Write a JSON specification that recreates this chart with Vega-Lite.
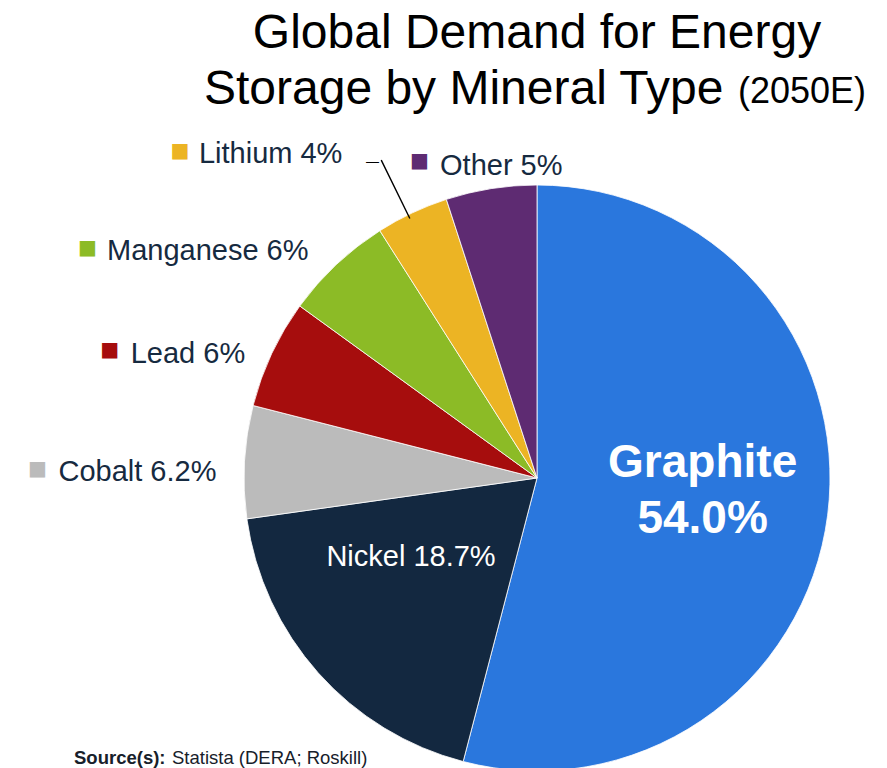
{
  "$schema": "https://vega.github.io/schema/vega-lite/v6.json",
  "autosize": {"type": "none"},
  "padding": {"left": 244, "top": 187, "right": 57, "bottom": 0},
  "width": 586,
  "height": 582,
  "background": "#ffffff",
  "config": {"view": {"stroke": null}},
  "title": {
    "text": ["Global Demand for Energy", "Storage by Mineral Type\u00a0\u00a0\u00a0\u00a0\u00a0\u00a0\u00a0\u00a0\u00a0\u00a0\u00a0\u200b"],
    "subtitle": "\u200b\u00a0\u00a0\u00a0\u00a0\u00a0\u00a0\u00a0\u00a0\u00a0\u00a0\u00a0\u00a0\u00a0\u00a0\u00a0\u00a0\u00a0\u00a0\u00a0\u00a0\u00a0\u00a0\u00a0\u00a0\u00a0\u00a0\u00a0\u00a0\u00a0\u00a0\u00a0\u00a0\u00a0\u00a0\u00a0\u00a0\u00a0\u00a0\u00a0\u00a0\u00a0\u00a0\u00a0\u00a0\u00a0\u00a0\u00a0\u00a0\u00a0\u00a0\u00a0\u00a0\u00a0(2050E)",
    "anchor": "middle",
    "frame": "group",
    "offset": 1,
    "font": "Liberation Sans",
    "fontSize": 48,
    "fontWeight": "normal",
    "color": "#000000",
    "lineHeight": 56,
    "subtitleFont": "Liberation Sans",
    "subtitleFontSize": 36,
    "subtitleColor": "#000000",
    "subtitlePadding": -39
  },
  "layer": [
    {
      "data": {
        "values": [
          {"idx": 1, "mineral": "Graphite", "share": 54.0, "label": "Graphite\n54.0%"},
          {"idx": 2, "mineral": "Nickel", "share": 18.7, "label": "Nickel 18.7%"},
          {"idx": 3, "mineral": "Cobalt", "share": 6.2, "label": "Cobalt 6.2%"},
          {"idx": 4, "mineral": "Lead", "share": 6.0, "label": "Lead 6%"},
          {"idx": 5, "mineral": "Manganese", "share": 6.0, "label": "Manganese 6%"},
          {"idx": 6, "mineral": "Lithium", "share": 4.0, "label": "Lithium 4%"},
          {"idx": 7, "mineral": "Other", "share": 5.0, "label": "Other 5%"}
        ]
      },
      "encoding": {
        "theta": {"field": "share", "type": "quantitative", "stack": true},
        "order": {"field": "idx", "type": "quantitative"}
      },
      "layer": [
        {
          "mark": {"type": "arc", "outerRadius": 293, "stroke": "#ffffff", "strokeWidth": 0.8},
          "encoding": {
            "color": {
              "field": "mineral", "type": "nominal", "legend": null,
              "scale": {
                "domain": ["Graphite", "Nickel", "Cobalt", "Lead", "Manganese", "Lithium", "Other"],
                "range": ["#2A77DD", "#132840", "#BBBBBB", "#A60D0D", "#8CBB26", "#ECB424", "#5E2B72"]
              }
            }
          }
        },
        {
          "transform": [
            {"stack": "share", "groupby": [], "sort": [{"field": "idx", "order": "ascending"}], "as": ["t0", "t1"]},
            {"filter": "datum.mineral === 'Lithium'"}
          ],
          "mark": {"type": "arc", "innerRadius": 289, "outerRadius": 354, "thetaOffset": 0.1105, "theta2Offset": 0.1105, "fill": null, "stroke": "#000000", "strokeWidth": 1.4},
          "encoding": {
            "theta": {"field": "t0", "type": "quantitative", "stack": null},
            "theta2": {"field": "t0"}
          }
        },
        {
          "mark": {"type": "text", "radius": 300, "align": "center", "baseline": "middle", "dx": -36.6, "dy": -45, "font": "Liberation Sans", "fontSize": 13, "fill": "#000000"},
          "encoding": {"text": {"condition": {"test": "datum.mineral === 'Lithium'", "value": "\u2014"}, "value": ""}}
        },
        {
          "mark": {"type": "text", "radius": 300, "align": "left", "baseline": "middle", "dx": -179, "dy": 11, "font": "Liberation Sans", "fontSize": 29, "fill": "#162A40"},
          "encoding": {"text": {"condition": {"test": "datum.mineral === 'Cobalt'", "field": "label", "type": "nominal"}, "value": ""}}
        },
        {
          "mark": {"type": "text", "radius": 300, "align": "left", "baseline": "middle", "dx": -134.7, "dy": 3.6, "font": "Liberation Sans", "fontSize": 29, "fill": "#162A40"},
          "encoding": {"text": {"condition": {"test": "datum.mineral === 'Lead'", "field": "label", "type": "nominal"}, "value": ""}}
        },
        {
          "mark": {"type": "text", "radius": 300, "align": "left", "baseline": "middle", "dx": -224.5, "dy": -8.7, "font": "Liberation Sans", "fontSize": 29, "fill": "#162A40"},
          "encoding": {"text": {"condition": {"test": "datum.mineral === 'Manganese'", "field": "label", "type": "nominal"}, "value": ""}}
        },
        {
          "mark": {"type": "text", "radius": 300, "align": "left", "baseline": "middle", "dx": -210.2, "dy": -52.9, "font": "Liberation Sans", "fontSize": 29, "fill": "#162A40"},
          "encoding": {"text": {"condition": {"test": "datum.mineral === 'Lithium'", "field": "label", "type": "nominal"}, "value": ""}}
        },
        {
          "mark": {"type": "text", "radius": 300, "align": "left", "baseline": "middle", "dx": -50, "dy": -16, "font": "Liberation Sans", "fontSize": 29, "fill": "#162A40"},
          "encoding": {"text": {"condition": {"test": "datum.mineral === 'Other'", "field": "label", "type": "nominal"}, "value": ""}}
        },
        {
          "mark": {"type": "text", "radius": 300, "align": "center", "baseline": "middle", "dx": -200, "dy": 7.5, "font": "DejaVu Sans", "fontSize": 20},
          "encoding": {
            "text": {"condition": {"test": "datum.mineral === 'Cobalt'", "value": "\u25a0"}, "value": ""},
            "color": {"field": "mineral", "type": "nominal", "legend": null}
          }
        },
        {
          "mark": {"type": "text", "radius": 300, "align": "center", "baseline": "middle", "dx": -155.7, "dy": -0.9, "font": "DejaVu Sans", "fontSize": 20},
          "encoding": {
            "text": {"condition": {"test": "datum.mineral === 'Lead'", "value": "\u25a0"}, "value": ""},
            "color": {"field": "mineral", "type": "nominal", "legend": null}
          }
        },
        {
          "mark": {"type": "text", "radius": 300, "align": "center", "baseline": "middle", "dx": -244, "dy": -11.9, "font": "DejaVu Sans", "fontSize": 20},
          "encoding": {
            "text": {"condition": {"test": "datum.mineral === 'Manganese'", "value": "\u25a0"}, "value": ""},
            "color": {"field": "mineral", "type": "nominal", "legend": null}
          }
        },
        {
          "mark": {"type": "text", "radius": 300, "align": "center", "baseline": "middle", "dx": -229.2, "dy": -55.6, "font": "DejaVu Sans", "fontSize": 20},
          "encoding": {
            "text": {"condition": {"test": "datum.mineral === 'Lithium'", "value": "\u25a0"}, "value": ""},
            "color": {"field": "mineral", "type": "nominal", "legend": null}
          }
        },
        {
          "mark": {"type": "text", "radius": 300, "align": "center", "baseline": "middle", "dx": -70.5, "dy": -20.7, "font": "DejaVu Sans", "fontSize": 20},
          "encoding": {
            "text": {"condition": {"test": "datum.mineral === 'Other'", "value": "\u25a0"}, "value": ""},
            "color": {"field": "mineral", "type": "nominal", "legend": null}
          }
        },
        {
          "mark": {"type": "text", "radius": 150, "align": "center", "baseline": "middle", "dx": -14, "dy": -20.6, "font": "Liberation Sans", "fontSize": 29, "fill": "#ffffff"},
          "encoding": {"text": {"condition": {"test": "datum.mineral === 'Nickel'", "field": "label", "type": "nominal"}, "value": ""}}
        },
        {
          "mark": {"type": "text", "radius": 167, "align": "center", "baseline": "middle", "dy": -36, "font": "Liberation Sans", "fontSize": 46, "fontWeight": "bold", "lineHeight": 56, "lineBreak": "\n", "fill": "#ffffff"},
          "encoding": {"text": {"condition": {"test": "datum.mineral === 'Graphite'", "field": "label", "type": "nominal"}, "value": ""}}
        }
      ]
    },
    {
      "data": {"values": [{"note": "Source(s):", "source": "Statista (DERA; Roskill)"}]},
      "mark": {"type": "text", "text": ""},
      "encoding": {
        "opacity": {
          "field": "note", "type": "nominal",
          "scale": {"range": [0, 0]},
          "legend": {
            "orient": "none", "legendX": -170, "legendY": 562,
            "title": "Source(s):", "titleLimit": 400,
            "titleFont": "Liberation Sans", "titleFontSize": 18.5, "titleFontWeight": "bold", "titleColor": "#17202A",
            "labelOpacity": 0, "symbolOpacity": 0, "symbolSize": 0
          }
        },
        "stroke": {
          "field": "source", "type": "nominal",
          "scale": {"range": ["#ffffff"]},
          "legend": {
            "orient": "none", "legendX": -72, "legendY": 562,
            "title": "Statista (DERA; Roskill)", "titleLimit": 400,
            "titleFont": "Liberation Sans", "titleFontSize": 18.5, "titleFontWeight": "normal", "titleColor": "#17202A",
            "labelOpacity": 0, "symbolOpacity": 0, "symbolSize": 0
          }
        }
      }
    }
  ]
}
